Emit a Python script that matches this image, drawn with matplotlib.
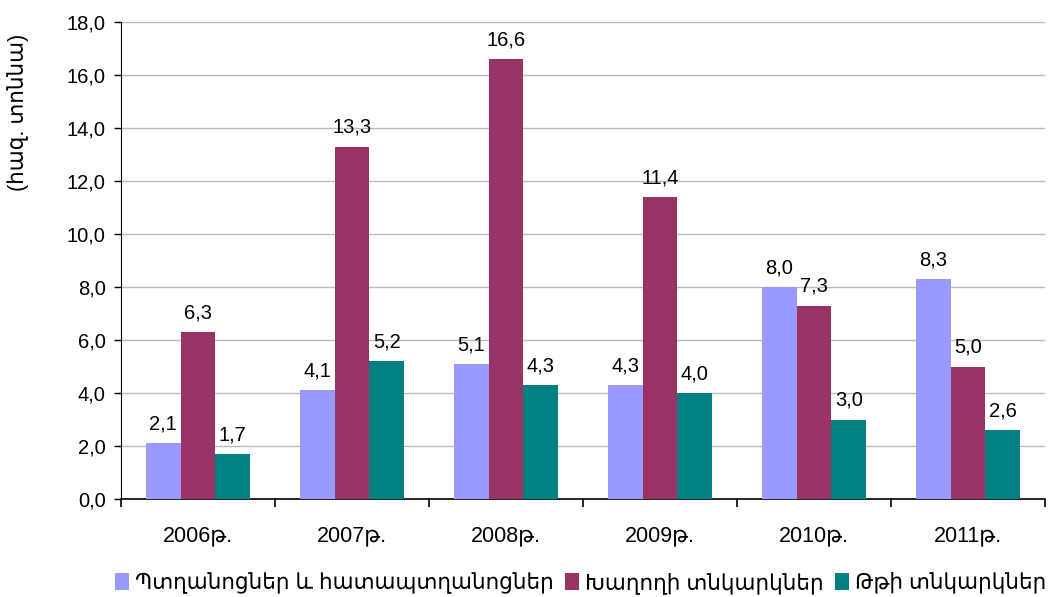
import numpy as np
import matplotlib
matplotlib.use("Agg")
import matplotlib.pyplot as plt

plt.rcParams["font.family"] = ["Liberation Sans", "DejaVu Sans"]

years = ["2006թ.", "2007թ.", "2008թ.", "2009թ.", "2010թ.", "2011թ."]
fruit = [2.1, 4.1, 5.1, 4.3, 8.0, 8.3]
grape = [6.3, 13.3, 16.6, 11.4, 7.3, 5.0]
mulberry = [1.7, 5.2, 4.3, 4.0, 3.0, 2.6]

series = [
    ("Պտղանոցներ և հատապտղանոցներ", fruit, "#9999FF"),
    ("Խաղողի տնկարկներ", grape, "#993366"),
    ("Թթի տնկարկներ", mulberry, "#008080"),
]

FS = 14.5

fig = plt.figure(figsize=(10.56, 5.97), dpi=100)
ax = fig.add_axes([0.1146, 0.164, 0.875, 0.799])

x = np.arange(len(years))
w = 0.225
for i, (name, vals, col) in enumerate(series):
    pos = x + (i - 1) * w
    bars = ax.bar(pos, vals, w, color=col, label=name, zorder=3)
    for b, v in zip(bars, vals):
        ax.annotate(f"{v:.1f}".replace(".", ","), (b.get_x() + b.get_width() / 2, v),
                    xytext=(0, 7), textcoords="offset points",
                    ha="center", va="bottom", fontsize=FS)

ax.set_xlim(-0.5, len(years) - 0.5)
ax.set_ylim(0, 18)
ax.set_yticks(np.arange(0, 18.1, 2))
ax.set_yticklabels([f"{v:.1f}".replace(".", ",") for v in np.arange(0, 18.1, 2)], fontsize=FS)
ax.yaxis.grid(True, color="#BBBBBB", linewidth=1.0, zorder=0)
ax.set_axisbelow(True)

ax.set_xticks(x)
ax.set_xticklabels(years, fontsize=15.5)
ax.set_xticks(np.arange(-0.5, len(years)), minor=True)
ax.tick_params(axis="x", which="major", length=0, pad=19)
ax.tick_params(axis="x", which="minor", length=6, width=1.2, direction="out")
ax.tick_params(axis="y", length=5, width=1.0, direction="out", pad=6)

for s in ["top", "right"]:
    ax.spines[s].set_visible(False)
ax.spines["left"].set_color("#000000")
ax.spines["bottom"].set_color("#000000")
ax.spines["bottom"].set_linewidth(1.2)

ax.set_ylabel("(հազ. տոննա)", fontsize=15.5)
ax.yaxis.set_label_coords(-0.1, 0.81)

fig.legend(loc="lower center", bbox_to_anchor=(0.55, -0.027), ncol=3, frameon=False,
           fontsize=15.5, handlelength=0.65, handleheight=0.85, handletextpad=0.3,
           columnspacing=0.5)

fig.savefig("out.png", dpi=100)
